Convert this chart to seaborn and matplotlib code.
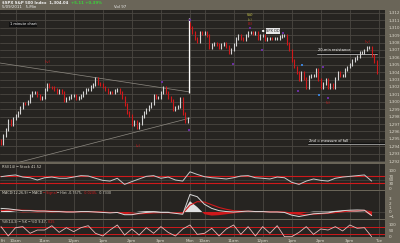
import numpy as np
import pandas as pd
import matplotlib
matplotlib.use("Agg")
import matplotlib.pyplot as plt
from matplotlib.transforms import offset_copy
import seaborn as sns

# ---------------- data ----------------
day1_close = [1294.4, 1295.5, 1296.2, 1297.5, 1296.9, 1297.8, 1298.2, 1298.6, 1299.2, 1299.8,
              1299.7, 1300.0, 1300.8, 1301.2, 1301.3, 1300.9, 1300.5, 1300.6, 1301.6, 1302.3,
              1302.0, 1301.9, 1301.6, 1301.3, 1301.5, 1301.2, 1300.2, 1300.5, 1300.6, 1300.9,
              1300.9, 1300.5, 1300.6, 1300.8, 1301.2, 1301.6, 1301.6, 1302.1, 1302.4, 1303.1,
              1302.5, 1302.3, 1302.0, 1301.6, 1301.2, 1301.3, 1301.2, 1301.5, 1301.6, 1301.3,
              1300.6, 1299.6, 1298.6, 1298.2, 1296.9, 1297.4, 1296.5, 1297.1, 1298.0, 1298.5,
              1298.9, 1299.4, 1299.8, 1300.8, 1300.6, 1300.6, 1301.3, 1301.9, 1301.2, 1300.6,
              1300.2, 1298.9, 1299.2, 1299.3, 1300.5, 1298.4, 1297.3, 1297.8]
day2_close = [1310.1, 1309.3, 1308.6, 1308.1, 1309.3, 1309.2, 1309.4, 1308.9, 1307.4, 1307.7,
              1307.9, 1307.7, 1307.4, 1307.8, 1307.9, 1307.5, 1306.7, 1307.1, 1307.7, 1308.6,
              1309.0, 1308.6, 1308.4, 1308.9, 1309.3, 1309.4, 1309.2, 1309.3, 1308.6, 1308.9,
              1309.0, 1308.4, 1308.6, 1308.6, 1308.5, 1308.5, 1308.6, 1308.8, 1308.9, 1309.0,
              1307.9, 1307.0, 1305.6, 1304.7, 1304.0, 1303.0, 1303.9, 1303.2, 1301.9, 1303.4,
              1303.5, 1303.6, 1304.3, 1303.0, 1301.9, 1302.5, 1303.0, 1301.9, 1302.3, 1301.9,
              1303.2, 1303.9, 1303.6, 1303.6, 1304.3, 1304.7, 1305.0, 1305.6, 1305.9, 1306.1,
              1306.6, 1306.7, 1307.0, 1307.3, 1307.4, 1306.3, 1305.4, 1304.0]

# indicators, sampled every 3 bars (15 min)
rsi_day1 = [66, 72, 76, 64, 60, 47, 60, 64, 57, 57, 64, 72, 70, 57, 45, 41, 57, 22, 38, 53,
            68, 72, 57, 64, 47, 41]
rsi_day2 = [94, 79, 66, 60, 57, 53, 60, 70, 72, 60, 57, 53, 64, 60, 34, 22, 41, 53, 45, 41,
            57, 64, 68, 72, 76, 41]
macd_day1 = [0.8, 0.7, 0.5, 0.3, 0.3, 0.2, 0.2, 0.1, 0.1, 0.0, 0.0, 0.1, 0.1, 0.0, -0.1, -0.2,
             -0.1, -0.6, -0.6, -0.3, -0.1, 0.0, -0.1, -0.1, -0.3, -0.5]
macd_day2 = [3.9, 3.4, 1.7, 0.8, 0.3, 0.1, 0.0, 0.1, 0.2, 0.1, 0.1, 0.0, 0.0, -0.1, -0.7, -1.0,
             -0.7, -0.4, -0.3, -0.2, 0.1, 0.3, 0.4, 0.45, 0.4, -0.8]
signal_day1 = [0.3, 0.4, 0.45, 0.4, 0.35, 0.3, 0.25, 0.2, 0.15, 0.1, 0.05, 0.05, 0.05, 0.05, 0.0,
               -0.1, -0.1, -0.3, -0.45, -0.4, -0.3, -0.2, -0.15, -0.15, -0.2, -0.3]
signal_day2 = [1.5, 2.3, 2.2, 1.6, 1.0, 0.6, 0.3, 0.2, 0.15, 0.1, 0.1, 0.05, 0.05, 0.0, -0.2, -0.5,
               -0.6, -0.5, -0.4, -0.3, -0.15, 0.05, 0.2, 0.3, 0.35, 0.0]
stoch_day1 = [86, 6, 77, 86, 29, 57, 57, 94, 37, 77, 43, 77, 94, 29, 6, 57, 100, 14, 66, 14,
              77, 29, 86, 37, 6, 66]
stoch_day2 = [100, 20, 29, 72, 6, 66, 100, 20, 86, 6, 86, 29, 94, 0, 0, 37, 86, 20, 66, 57,
              86, 49, 100, 72, 77, 0]

price_ticks = list(range(1292, 1313))
rsi_ticks = [0, 30, 50, 70, 100]
macd_ticks = [-1, 0, 1, 2, 3]
stoch_ticks = [0, 50, 100]
day_names = ["Fri", "Mon", "Tue"]
hour_names = ["10am", "11am", "12pm", "1pm", "2pm", "3pm"]

# ---------------- styling ----------------
sns.set_style("dark")
plt.rcParams["font.family"] = ["DejaVu Sans"]
FIG_BG = "#6a6558"
AX_BG = "#262421"
GRID = "#4a4742"
TXT = "#dcd8cc"
RED = "#d0191b"
UP = "#d4d4d4"

W, H = 400, 243
fig = plt.figure(figsize=(4.0, 2.43), dpi=100, facecolor=FIG_BG)
renderer = fig.canvas.get_renderer()


def add_ax(top, bottom, right=385):
    a = fig.add_axes([0, 1 - bottom / H, right / W, (bottom - top) / H])
    a.set_facecolor(AX_BG)
    for s in a.spines.values():
        s.set_visible(False)
    return a


def chain_text(x0, y0, parts, fontsize, transform, gap=1.0, **kw):
    """Place coloured text pieces one after another, using measured widths."""
    trans = transform
    for txt, col in parts:
        t = fig.text(x0, y0, txt, fontsize=fontsize, color=col, transform=trans,
                     va="center", ha="left", **kw)
        bb = t.get_window_extent(renderer=renderer)
        trans = offset_copy(trans, fig=fig, x=(bb.width + gap) * 72 / fig.dpi, units="points")


ax = add_ax(10, 162)
ax_rsi = add_ax(164, 190)
ax_macd = add_ax(191, 219)
ax_sto = add_ax(220, 237)

closes = np.array(day1_close + day2_close)
n = len(closes)
idx = np.arange(n)
bars_per_day = len(day1_close)

hour_bars = [6 + 12 * k for k in range(len(hour_names))]
grid_x = hour_bars + [bars_per_day] + [bars_per_day + h for h in hour_bars] + [2 * bars_per_day]
xlim = (-0.41, 158.5)

for a in (ax, ax_rsi, ax_macd, ax_sto):
    a.set_xlim(*xlim)
    for gx in grid_x:
        a.axvline(gx, color=GRID, lw=0.6, zorder=0)
    a.yaxis.tick_right()
    a.tick_params(axis="y", length=0, pad=2.5, labelsize=3.0, labelcolor=TXT)
    a.tick_params(axis="x", length=0)
    a.set_xticks([])
    a.grid(False)

# ---------------- main price panel ----------------
ax.set_ylim(1291.865, 1312.405)
ax.set_yticks(price_ticks)
ax.set_yticklabels([f"{v:,}" for v in price_ticks])
for p in price_ticks:
    ax.axhline(p, color=GRID, lw=0.6, zorder=0)

opens = np.empty(n)
opens[1:] = closes[:-1]
opens[0] = closes[0] + 0.4
opens[bars_per_day] = closes[bars_per_day] + 0.5
up = closes >= opens
lo = np.minimum(opens, closes) - 0.2
hi = np.maximum(opens, closes) + 0.2
ax.vlines(idx[up], lo[up], hi[up], color=UP, lw=0.8, zorder=3)
ax.vlines(idx[~up], lo[~up], hi[~up], color=RED, lw=0.8, zorder=3)

# session separator
ax.vlines([bars_per_day - 0.4], 1301.2, 1311.3, color="white", lw=0.9, zorder=2)

# trend lines
ax.plot([-0.41, 78], [1305.24, 1301.32], color="#8e8a82", lw=0.5, zorder=1)
ax.plot([0, 78], [1291.2, 1297.8], color="#8e8a82", lw=0.5, zorder=1)
# horizontal levels
ax.plot([130.4, 155.2], [1306.6, 1306.6], color="#111111", lw=1.0, zorder=2)
ax.plot([130.4, 155.2], [1306.45, 1306.45], color="#cfcfcf", lw=0.5, zorder=2)
ax.plot([126.7, 158.5], [1294.45, 1294.45], color="#111111", lw=1.0, zorder=2)
ax.plot([126.7, 158.5], [1294.3, 1294.3], color="#bdbdbd", lw=0.5, zorder=2)

fs = 2.6
ax.text(3.7, 1310.5, "1 minute chart", fontsize=fs, color="white", va="center",
        bbox=dict(boxstyle="square,pad=0.15", fc="#111111", ec="none"))
ax.text(130.8, 1306.95, "20-min resistance", fontsize=fs, color="white", va="center")
ax.text(127.0, 1294.75, "2nd = measure of fall", fontsize=fs, color="white", va="center")
ax.annotate("SPX DD", xy=(107.5, 1309.57), xytext=(109.5, 1309.57), fontsize=fs,
            color="#111111", va="center",
            bbox=dict(boxstyle="square,pad=0.15", fc="#e8e8e8", ec="none"),
            arrowprops=dict(arrowstyle="-|>", color="white", lw=0.5, mutation_scale=3))

# wave labels
ax.text(19.4, 1305.4, "(iv)", fontsize=fs, color=RED, ha="center", va="center")
ax.text(56.5, 1294.0, "(v)", fontsize=fs, color=RED, ha="center", va="center")
ax.text(102.8, 1311.75, "(iii)", fontsize=3.0, color="#d4d04a", ha="center", va="center")
ax.text(102.8, 1311.05, "(c)", fontsize=fs, color="#a7a346", ha="center", va="center")
ax.text(102.8, 1310.45, "(3)", fontsize=fs, color=RED, ha="center", va="center")
ax.text(135.0, 1299.8, "(ii)", fontsize=fs, color=RED, ha="center", va="center")
ax.text(151.5, 1308.1, "(iv)", fontsize=fs, color=RED, ha="center", va="center")

purple_x = [66.4, 77.6, 78.0, 116.4, 107.7, 95.7, 132.9, 122.6, 135.0, 102.8]
purple_y = [1302.68, 1296.2, 1311.05, 1309.3, 1307.0, 1305.1, 1304.7, 1301.5, 1300.5, 1310.0]
ax.scatter(purple_x, purple_y, marker="s", s=1.6, color="#6a2fa0", linewidths=0, zorder=4)
ax.scatter([124.2, 131.2], [1304.97, 1300.9], marker="s", s=0.8, color="#3c7fd0",
           linewidths=0, zorder=4)

# ---------------- indicator panels ----------------
ind_x = list(range(0, bars_per_day, 3)) + list(range(bars_per_day, 2 * bars_per_day, 3))
ind = pd.DataFrame({
    "x": ind_x,
    "rsi": rsi_day1 + rsi_day2,
    "macd": macd_day1 + macd_day2,
    "signal": signal_day1 + signal_day2,
    "stoch": stoch_day1 + stoch_day2,
})

# RSI
ax_rsi.set_ylim(-10, 138.6)
ax_rsi.set_yticks(rsi_ticks)
for v in (30, 70):
    ax_rsi.axhline(v, color=RED, lw=0.8, zorder=1)
ax_rsi.axhline(50, color=GRID, lw=0.5, zorder=0)
sns.lineplot(data=ind, x="x", y="rsi", ax=ax_rsi, color="#c9c9c9", lw=0.7, zorder=3)
chain_text(1.5 / W, 1 - 166.5 / H, [("RSI(14) ─ Stock 41.52", TXT)], 2.6, fig.transFigure)

# MACD
ax_macd.set_ylim(-1.556, 4.667)
ax_macd.set_yticks(macd_ticks)
hist = ind["macd"] - ind["signal"]
ax_macd.fill_between(ind["x"], 0, hist, where=hist >= 0, color="#e0e0e0", lw=0,
                     interpolate=True, zorder=2)
ax_macd.fill_between(ind["x"], 0, hist, where=hist < 0, color=RED, lw=0,
                     interpolate=True, zorder=2)
ax_macd.axhline(0, color=GRID, lw=0.5, zorder=0)
sns.lineplot(data=ind, x="x", y="signal", ax=ax_macd, color=RED, lw=0.8, zorder=3)
sns.lineplot(data=ind, x="x", y="macd", ax=ax_macd, color="#d8d8d8", lw=0.7, zorder=4)
chain_text(1.5 / W, 1 - 193 / H,
           [("MACD(12,26,9) ─ MACD", TXT), ("─ Signal", RED), ("─ Hist -0.7575,", TXT),
            ("-0.0245,", RED), ("-0.7330", TXT)], 2.4, fig.transFigure)

# Stochastic
ax_sto.set_ylim(-2.56, 142.7)
ax_sto.set_yticks(stoch_ticks)
for v in (20, 80):
    ax_sto.axhline(v, color=RED, lw=0.7, zorder=1)
sns.lineplot(data=ind, x="x", y="stoch", ax=ax_sto, color="#e8b9b9", lw=0.6, zorder=3)
chain_text(1.5 / W, 1 - 222 / H,
           [("%K(14,3) ─ %K ─ %D 9.47,", TXT), ("8.25", RED)], 2.4, fig.transFigure)

for a in (ax_rsi, ax_macd, ax_sto):
    a.set_xlabel("")
    a.set_ylabel("")
    a.set_xlim(*xlim)

# bottom time labels
tick_pos = [0] + hour_bars + [bars_per_day] + [bars_per_day + h for h in hour_bars] + [2 * bars_per_day]
tick_lab = [day_names[0]] + hour_names + [day_names[1]] + hour_names + [day_names[2]]
ax_sto.set_xticks(tick_pos)
ax_sto.set_xticklabels(tick_lab)
ax_sto.tick_params(axis="x", length=0, pad=1.2, labelsize=3.0, labelcolor=TXT)
ax_sto.get_xticklabels()[0].set_ha("left")

# header
chain_text(2 / W, 1 - 3 / H, [("$SPX S&P 500 Index  1,304.04", "#f2f2f2"),
                              ("+5.11 +0.39%", "#3ad43a")], 2.8, fig.transFigure, gap=2.5,
           fontweight="bold")
fig.text(2 / W, 1 - 7 / H, "5/09/2011   5-Min", fontsize=2.8, color="#eeeeee", va="center")
fig.text(114 / W, 1 - 7 / H, "Vol 97", fontsize=2.8, color="#eeeeee", va="center")

fig.savefig("out.png", dpi=100, facecolor=FIG_BG)
